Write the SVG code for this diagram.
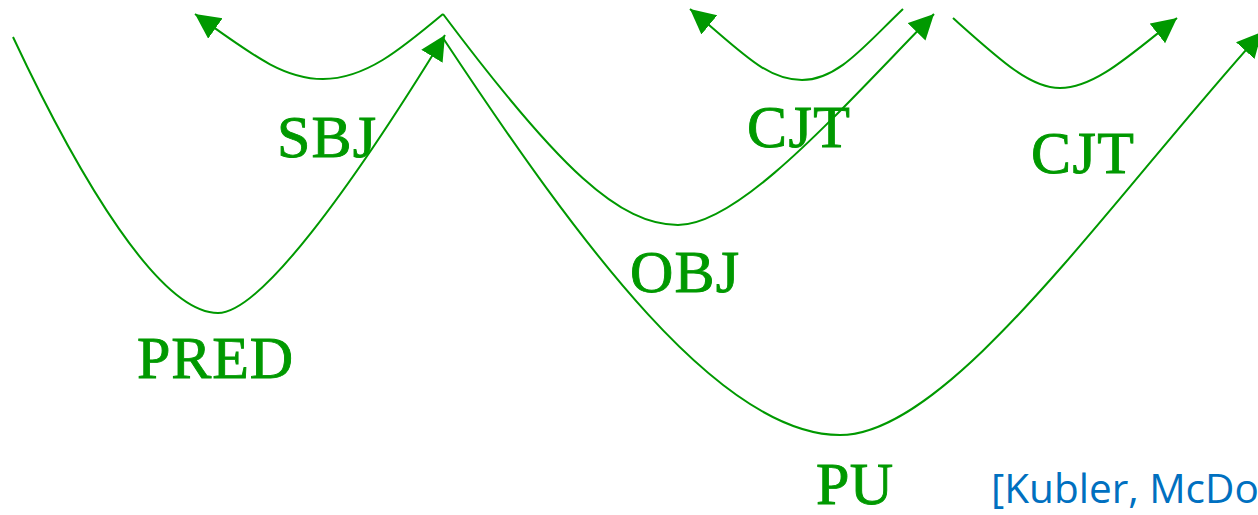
<svg xmlns="http://www.w3.org/2000/svg" width="1258" height="515" viewBox="0 0 1258 515">
  <style>
    .arc { fill: none; stroke: #009900; stroke-width: 2; }
    .lbl { font-family: "Liberation Serif", "DejaVu Serif", serif; font-size: 60px; fill: #009900; stroke: #009900; stroke-width: 0.9; }
    .cite { font-family: "Open Sans", "Liberation Sans", sans-serif; font-size: 40.5px; fill: #0070C0; }
  </style>
  <defs>
    <marker id="arrow" markerUnits="userSpaceOnUse" markerWidth="27" markerHeight="27" refX="25" refY="12.5" orient="auto">
      <path d="M0,0 L25,12.5 L0,25 z" fill="#009900"/>
    </marker>
  </defs>
  <rect width="1258" height="515" fill="#ffffff"/>
  <g id="connectors">
    <path id="arc-pred" class="arc" d="M13,37 C80,180 160,313 218,313 C260,313 350,190 445,35" marker-end="url(#arrow)"/>
    <path id="arc-sbj" class="arc" d="M443,14 C400,50 365,79 323,79 C282,79 250,53 195,14" marker-end="url(#arrow)"/>
    <path id="arc-obj" class="arc" d="M443,14 C560,170 620,225 678,225 C740,225 840,110 934,14" marker-end="url(#arrow)"/>
    <path id="arc-pu" class="arc" d="M443,38 C580,245 720,435 840,435 C950,435 1110,200 1262,32" marker-end="url(#arrow)"/>
    <path id="arc-cjt1" class="arc" d="M903,9 C865,45 838,80 802,80 C765,80 740,50 690,9" marker-end="url(#arrow)"/>
    <path id="arc-cjt2" class="arc" d="M953,18 C1000,60 1030,88 1060,88 C1095,88 1130,55 1177,18" marker-end="url(#arrow)"/>
  </g>
  <g id="label-sbj"><text class="lbl" x="277" y="157" textLength="99">SBJ</text></g>
  <g id="label-pred"><text class="lbl" x="137" y="378" textLength="156">PRED</text></g>
  <g id="label-cjt1"><text class="lbl" x="747" y="147" textLength="103">CJT</text></g>
  <g id="label-obj"><text class="lbl" x="630" y="292" textLength="109">OBJ</text></g>
  <g id="label-cjt2"><text class="lbl" x="1031" y="173" textLength="103">CJT</text></g>
  <g id="label-pu"><text class="lbl" x="816" y="504" textLength="77">PU</text></g>
  <g id="citation"><text class="cite" x="991" y="503">[Kubler, McDo</text></g>
</svg>
